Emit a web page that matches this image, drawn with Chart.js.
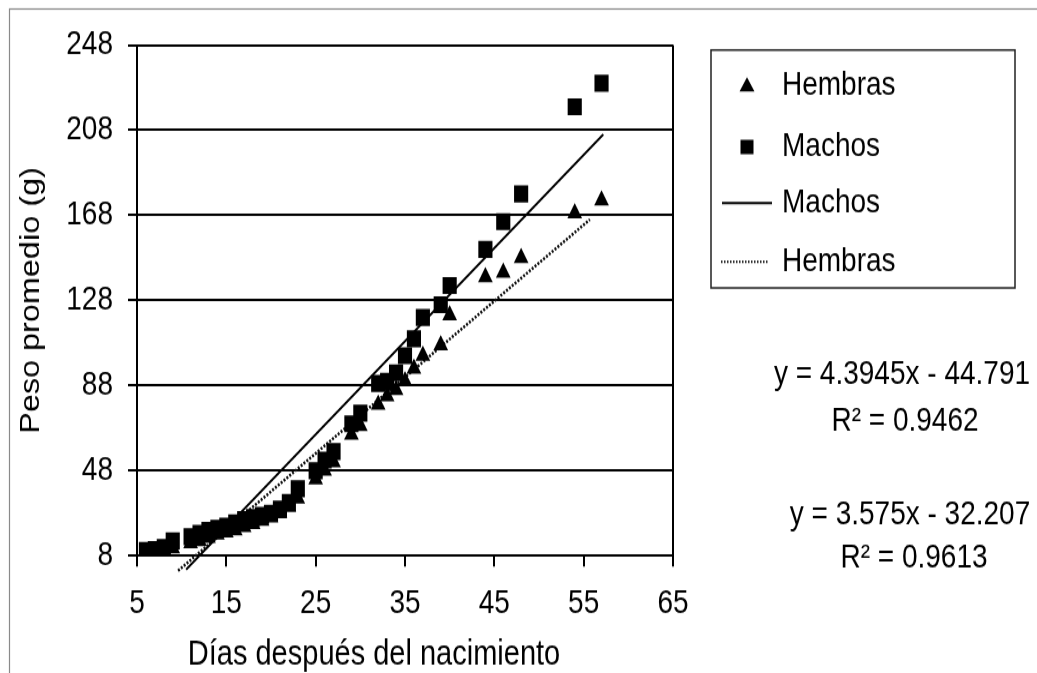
<!DOCTYPE html>
<html lang="es">
<head>
<meta charset="utf-8">
<title>Peso promedio según días después del nacimiento</title>
<script src="https://cdn.jsdelivr.net/npm/chart.js@4.4.1/dist/chart.umd.min.js"></script>
<style>
  html, body { margin: 0; padding: 0; background: #fff; overflow: hidden; }
  #grafico { display: block; }
</style>
</head>
<body>
<canvas id="grafico" width="1037" height="561" style="width:1037px;height:673px"></canvas>
<script>
// Datos
const dias = [6, 7, 8, 9, 11, 12, 13, 14, 15, 16, 17, 18, 19, 20, 21, 22, 23, 25, 26, 27, 29, 30, 32, 33, 34, 35, 36, 37, 39, 40, 44, 46, 48, 54, 57];
const pesoMachos = [10.5, 11, 12, 15, 17, 18.5, 20, 21, 22, 23.5, 25, 26, 27, 28, 30, 33, 39.5, 48, 53, 57, 70, 75, 89, 90, 94, 102, 110, 120, 126, 135, 152, 165, 178, 219, 230];
const pesoHembras = [9, 9.5, 10.5, 11.5, 14, 15, 16.5, 18, 19, 20, 21.5, 23, 24.5, 26, 28, 31, 35, 44, 48, 52, 65, 69, 79, 83, 86, 90, 96, 102, 107, 121, 139, 141, 148, 169, 175];

// Extremos de las líneas de tendencia
const ajusteMachosX = [10.5, 57.2];
const ajusteMachosY = [1.5, 206];
const ajusteHembrasX = [9.6, 55.7];
const ajusteHembrasY = [1, 166];

const ticksX = [5, 15, 25, 35, 45, 55, 65];
const ticksY = [8, 48, 88, 128, 168, 208, 248];

const tituloX = 'Días después del nacimiento';
const ecuaciones = [
  { texto: 'y = 4.3945x - 44.791', x: 902, y: 312.5 },
  { texto: 'R² = 0.9462', x: 905, y: 351.7 },
  { texto: 'y = 3.575x - 32.207', x: 910, y: 429.2 },
  { texto: 'R² = 0.9613', x: 914, y: 465 },
];

const FUENTE = '"Liberation Sans", Arial, sans-serif';

const puntos = (xs, ys) => xs.map((x, i) => ({ x: x, y: ys[i] }));

const extrasPlugin = {
  id: 'extras',
  beforeDraw(chart) {
    const ctx = chart.ctx;
    ctx.save();
    ctx.strokeStyle = '#8a8a8a';
    ctx.lineWidth = 1.2;
    ctx.strokeRect(9.5, 7.5, 1100, 700);
    ctx.restore();
  },
  afterDraw(chart) {
    const ctx = chart.ctx;
    const a = chart.chartArea;
    ctx.save();
    // borde derecho del área de trazado
    ctx.strokeStyle = '#000';
    ctx.lineWidth = 2;
    ctx.beginPath();
    ctx.moveTo(a.right, a.top);
    ctx.lineTo(a.right, a.bottom);
    ctx.stroke();

    // leyenda
    ctx.lineWidth = 1.5;
    ctx.strokeStyle = '#222';
    ctx.strokeRect(711, 41.7, 304, 198.3);
    ctx.fillStyle = '#000';
    ctx.font = '28px ' + FUENTE;
    ctx.textBaseline = 'middle';
    ctx.textAlign = 'left';
    const filas = [70.8, 122.5, 169.2, 218.3];
    const textos = ['Hembras', 'Machos', 'Machos', 'Hembras'];
    // triángulo
    ctx.beginPath();
    ctx.moveTo(747, filas[0] - 6.5);
    ctx.lineTo(754.5, filas[0] + 5.5);
    ctx.lineTo(739.5, filas[0] + 5.5);
    ctx.closePath();
    ctx.fill();
    // cuadrado
    ctx.fillRect(740.5, filas[1] - 6, 13, 12);
    // línea continua
    ctx.lineWidth = 2;
    ctx.strokeStyle = '#000';
    ctx.beginPath();
    ctx.moveTo(722, filas[2]);
    ctx.lineTo(772, filas[2]);
    ctx.stroke();
    // línea punteada
    ctx.setLineDash([1.5, 1.5]);
    ctx.strokeStyle = '#111';
    ctx.beginPath();
    ctx.moveTo(721, filas[3]);
    ctx.lineTo(768, filas[3]);
    ctx.stroke();
    ctx.setLineDash([]);
    textos.forEach((t, i) => ctx.fillText(t, 782, filas[i]));

    // ecuaciones
    ctx.textAlign = 'center';
    ecuaciones.forEach(e => ctx.fillText(e.texto, e.x, e.y));

    // título del eje x
    ctx.font = '29px ' + FUENTE;
    ctx.fillText(tituloX, 374, 546);
    ctx.restore();
  }
};

new Chart(document.getElementById('grafico').getContext('2d'), {
  type: 'scatter',
  data: {
    datasets: [
      {
        label: 'Hembras',
        data: puntos(dias, pesoHembras),
        pointStyle: 'triangle',
        pointRadius: 8.5,
        backgroundColor: '#000',
        borderColor: '#000',
        borderWidth: 0,
      },
      {
        label: 'Machos',
        data: puntos(dias, pesoMachos),
        pointStyle: 'rect',
        pointRadius: 10,
        backgroundColor: '#000',
        borderColor: '#000',
        borderWidth: 0,
      },
      {
        label: 'Machos (tendencia)',
        data: puntos(ajusteMachosX, ajusteMachosY),
        showLine: true,
        pointRadius: 0,
        borderColor: '#000',
        borderWidth: 2,
        clip: false,
      },
      {
        label: 'Hembras (tendencia)',
        data: puntos(ajusteHembrasX, ajusteHembrasY),
        showLine: true,
        pointRadius: 0,
        borderColor: '#111',
        borderWidth: 2.5,
        borderDash: [2, 1.5],
        clip: false,
      },
    ],
  },
  options: {
    responsive: false,
    devicePixelRatio: 1,
    animation: false,
    layout: { padding: { top: 37.5, right: 364, left: 0, bottom: 0 } },
    plugins: { legend: { display: false }, tooltip: { enabled: false } },
    scales: {
      x: {
        type: 'linear',
        min: 5,
        max: 65,
        afterBuildTicks: (s) => { s.ticks = ticksX.map(v => ({ value: v })); },
        afterFit: (s) => { s.height = 97.7; },
        grid: { drawOnChartArea: false, drawTicks: true, tickLength: 9, color: '#000', lineWidth: 2 },
        border: { color: '#000', width: 2 },
        ticks: { color: '#000', padding: 14, maxRotation: 0, font: { family: FUENTE, size: 28 } },
        title: { display: false },
      },
      y: {
        type: 'linear',
        min: 8,
        max: 248,
        afterBuildTicks: (s) => { s.ticks = ticksY.map(v => ({ value: v })); },
        afterFit: (s) => { s.width = 137; },
        grid: { drawTicks: true, tickLength: 9, color: '#000', lineWidth: 2 },
        border: { color: '#000', width: 2 },
        ticks: { color: '#000', padding: 15, font: { family: FUENTE, size: 28 } },
        title: {
          display: true,
          text: 'Peso promedio (g)',
          color: '#000',
          font: { family: FUENTE, size: 27 },
          padding: { top: 15, bottom: 0 },
        },
      },
    },
  },
  plugins: [extrasPlugin],
});
</script>
</body>
</html>
